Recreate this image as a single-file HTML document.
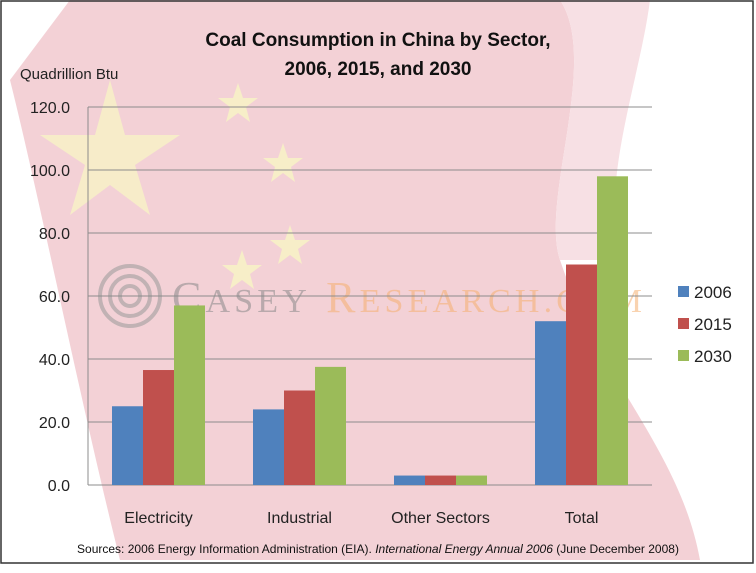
<!DOCTYPE html>
<html><head><meta charset="utf-8"><style>
body{margin:0;background:#fff}
svg{display:block;font-family:"Liberation Sans",sans-serif}
</style></head><body>
<svg width="756" height="573" viewBox="0 0 756 573">
<rect x="0" y="0" width="756" height="573" fill="#fff"/>
<g>
<path d="M70,0 L560,0 C600,60 540,200 560,260 C600,380 680,450 700,560 L120,560 C80,400 40,200 10,80 Z" fill="#f2ccd2" opacity="0.9"/>
<path d="M560,0 L650,0 C640,80 600,180 620,260 L560,260 C540,200 600,60 560,0Z" fill="#f7e0e4"/>
<polygon points="110,80 125,135 180,135 135,165 150,215 110,185 70,215 85,165 40,135 95,135" fill="#f7eec8" opacity="0.9"/>
<polygon points="238,83 243,98 258,98 246,107 250,122 238,113 226,122 230,107 218,98 233,98" fill="#f7eec8"/>
<polygon points="283,143 288,158 303,158 291,167 295,182 283,173 271,182 275,167 263,158 278,158" fill="#f7eec8"/>
<polygon points="290,225 295,240 310,240 298,249 302,264 290,255 278,264 282,249 270,240 285,240" fill="#f7eec8"/>
<polygon points="242,250 247,265 262,265 250,274 254,289 242,280 230,289 234,274 222,265 237,265" fill="#f7eec8"/>
</g>
<g opacity="0.55">
<circle cx="130" cy="296" r="30" fill="none" stroke="#999" stroke-width="4"/>
<circle cx="130" cy="296" r="20" fill="none" stroke="#999" stroke-width="4"/>
<circle cx="130" cy="296" r="10" fill="none" stroke="#999" stroke-width="4"/>
<text x="172" y="312" font-family="Liberation Serif,serif" font-size="44" fill="#8a8a8a" textLength="470" lengthAdjust="spacing">C<tspan font-size="34">ASEY</tspan> <tspan fill="#f5b070">R<tspan font-size="34">ESEARCH.COM</tspan></tspan></text>
</g>
<g id="grid"></g>
<g id="bars"></g>
<g id="axes"></g>
<text x="378" y="46" text-anchor="middle" font-size="19" font-weight="bold" fill="#111">Coal Consumption in China by Sector,</text>
<text x="378" y="75" text-anchor="middle" font-size="19" font-weight="bold" fill="#111">2006, 2015, and 2030</text>
<text x="20" y="79" font-size="15" fill="#222">Quadrillion Btu</text>
<g id="legend"></g>
<text x="378" y="553" text-anchor="middle" font-size="12" fill="#111">Sources: 2006 Energy Information Administration (EIA). <tspan font-style="italic">International Energy Annual 2006</tspan> (June December 2008)</text>
<rect x="1" y="1" width="752" height="562" fill="none" stroke="#333" stroke-width="1.5"/>
</svg>
<script>
const categories=["Electricity","Industrial","Other Sectors","Total"];
const seriesNames=["2006","2015","2030"];
const s2006=[25,24,3,52];
const s2015=[36.5,30,3,70];
const s2030=[57,37.5,3,98];
const yTicks=[0,20,40,60,80,100,120];
const colors=["#4f81bd","#c0504d","#9bbb59"];
const NS="http://www.w3.org/2000/svg";
const x0=88,x1=652,y0=485,y1=107,yMax=120;
const y=v=>y0-(v/yMax)*(y0-y1);
const cw=(x1-x0)/categories.length;
const bw=31;
function mk(t,a,p){const e=document.createElementNS(NS,t);for(const k in a)e.setAttribute(k,a[k]);p.appendChild(e);return e;}
const grid=document.getElementById('grid'),bars=document.getElementById('bars'),axes=document.getElementById('axes'),legend=document.getElementById('legend');
yTicks.forEach(v=>{
 const l=mk('line',{x1:x0,x2:x1,y1:y(v),y2:y(v),stroke:'#8c8c8c','stroke-width':1},grid);
 
 
 const t=mk('text',{x:70,y:y(v)+6,'text-anchor':'end','font-size':16,fill:'#222'},axes);
 t.textContent=v.toFixed(1);
 
 
});
const al=mk('line',{x1:x0,x2:x0,y1:y1,y2:y0,stroke:'#8c8c8c'},axes);


const series=[s2006,s2015,s2030];
categories.forEach((c,i)=>{
 const cx=x0+cw*(i+0.5);
 series.forEach((s,j)=>{
  const bx=cx-1.5*bw+j*bw;
  const r=mk('rect',{x:bx,y:y(s[i]),width:bw,height:y0-y(s[i]),fill:colors[j]},bars);
  
  
 });
 const t=mk('text',{x:cx,y:523,'text-anchor':'middle','font-size':16,fill:'#222'},axes);
 t.textContent=c;
 
 
});
seriesNames.forEach((n,j)=>{
 const ly=293+j*32;
 const r=mk('rect',{x:678,y:ly-7,width:11,height:11,fill:colors[j]},legend);
 
 
 const t=mk('text',{x:694,y:ly+5,'font-size':17,fill:'#222'},legend);
 t.textContent=n;
 
 
});
</script>
</body></html>
